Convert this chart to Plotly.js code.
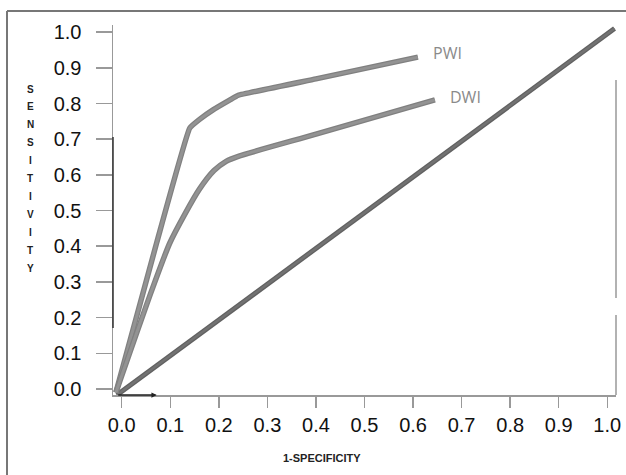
<!DOCTYPE html>
<html>
<head>
<meta charset="utf-8">
<script src="https://cdn.plot.ly/plotly-3.0.1.min.js"></script>
<style>html,body{margin:0;padding:0;background:#fff;}#chart{width:626px;height:475px;}</style>
</head>
<body>
<div id="chart"></div>
<script>
// ROC curves
var pwiX = [-0.012, 0.072, 0.14, 0.161, 0.188, 0.223, 0.24, 0.40, 0.61];
var pwiY = [-0.010, 0.410, 0.731, 0.756, 0.782, 0.810, 0.823, 0.869, 0.930];
var dwiX = [-0.012, 0.062, 0.099, 0.13, 0.16, 0.19, 0.215, 0.24, 0.40, 0.645];
var dwiY = [-0.010, 0.277, 0.409, 0.490, 0.560, 0.612, 0.638, 0.652, 0.714, 0.810];
var diagX = [-0.010, 1.015];
var diagY = [-0.017, 1.010];
var tickVals = [0, 0.1, 0.2, 0.3, 0.4, 0.5, 0.6, 0.7, 0.8, 0.9, 1.0];
var tickText = ["0.0","0.1","0.2","0.3","0.4","0.5","0.6","0.7","0.8","0.9","1.0"];
var seriesNames = ["PWI", "DWI"];
var xTitle = "1-SPECIFICITY";
var yTitle = "SENSITIVITY";

var W = 626, H = 475;
var M = {l: 113, r: 10, t: 25, b: 80};
var pw = W - M.l - M.r, ph = H - M.t - M.b;
function px(x){ return (x - M.l) / pw; }
function py(y){ return (H - M.b - y) / ph; }

function lineTrace(x, y, color, width, smooth){
  return {x: x, y: y, type: 'scatter', mode: 'lines', hoverinfo: 'skip', showlegend: false,
          line: {color: color, width: width, shape: smooth ? 'spline' : 'linear', smoothing: smooth || 0}};
}
var traces = [
  lineTrace(diagX, diagY, '#616161', 5, 0),
  lineTrace(diagX, diagY, '#727272', 2.5, 0),
  lineTrace(pwiX, pwiY, '#808080', 5.5, 0.3),
  lineTrace(pwiX, pwiY, '#939393', 3, 0.3),
  lineTrace(dwiX, dwiY, '#808080', 5.5, 0.6),
  lineTrace(dwiX, dwiY, '#939393', 3, 0.6)
];

var annotations = [
  {x: pwiX[pwiX.length-1] + 0.06, y: pwiY[pwiY.length-1] + 0.012, xref: 'x', yref: 'y', text: seriesNames[0],
   showarrow: false, xanchor: 'center', font: {family: 'Open Sans, sans-serif', size: 16, color: '#8a8a8a'}},
  {x: dwiX[dwiX.length-1] + 0.062, y: dwiY[dwiY.length-1] + 0.008, xref: 'x', yref: 'y', text: seriesNames[1],
   showarrow: false, xanchor: 'center', font: {family: 'Open Sans, sans-serif', size: 16, color: '#8a8a8a'}},
  {x: px(322), y: py(458), xref: 'paper', yref: 'paper', text: '<b>' + xTitle + '</b>', showarrow: false,
   xanchor: 'center', yanchor: 'middle', font: {family: 'Liberation Sans, Arial, sans-serif', size: 11, color: '#222'}},
  {x: 0.072, y: -0.017, xref: 'x', yref: 'y', ax: -40, ay: 0, text: '', showarrow: true,
   arrowhead: 2, arrowsize: 0.7, arrowwidth: 1.5, arrowcolor: '#222'}
];
yTitle.split('').forEach(function(ch, i){
  annotations.push({x: px(30), y: py(89 + i * 17.9), xref: 'paper', yref: 'paper', text: '<b>' + ch + '</b>',
    showarrow: false, xanchor: 'center', yanchor: 'middle',
    font: {family: 'Liberation Sans, Arial, sans-serif', size: 10, color: '#222'}});
});

var shapes = [
  // outer frame
  {type: 'line', xref: 'paper', yref: 'paper', x0: px(7), x1: px(630), y0: py(11), y1: py(11), line: {color: '#777', width: 2}},
  {type: 'line', xref: 'paper', yref: 'paper', x0: px(7), x1: px(7), y0: py(11), y1: py(480), line: {color: '#777', width: 2}},
  // right border segments
  {type: 'line', xref: 'paper', yref: 'paper', x0: 1, x1: 1, y0: py(80), y1: py(298), line: {color: '#999', width: 1.5}},
  {type: 'line', xref: 'paper', yref: 'paper', x0: 1, x1: 1, y0: py(315), y1: 0, line: {color: '#999', width: 1.5}},
  // darker piece of y axis
  {type: 'line', xref: 'paper', yref: 'paper', x0: 0, x1: 0, y0: py(137), y1: py(328), line: {color: '#333', width: 1.5}}
];

var tickFont = {family: 'Liberation Sans, Arial, sans-serif', size: 20, color: '#111'};
var layout = {
  width: W, height: H, margin: M, paper_bgcolor: '#fff', plot_bgcolor: '#fff',
  showlegend: false,
  xaxis: {range: [-0.018, 1.018], tickvals: tickVals, ticktext: tickText, ticks: 'outside', ticklen: 11,
          tickwidth: 1.5, tickcolor: '#999', showline: true, linecolor: '#999', linewidth: 1.5,
          showgrid: false, zeroline: false, tickfont: tickFont, ticklabelstandoff: 0},
  yaxis: {range: [-0.017, 1.02], tickvals: tickVals, ticktext: tickText, ticks: 'outside', ticklen: 16,
          tickwidth: 1.5, tickcolor: '#999', showline: true, linecolor: '#999', linewidth: 1.5,
          showgrid: false, zeroline: false, tickfont: tickFont, ticklabelstandoff: 10},
  annotations: annotations, shapes: shapes
};
Plotly.newPlot('chart', traces, layout, {displayModeBar: false, staticPlot: true});
</script>
</body>
</html>
